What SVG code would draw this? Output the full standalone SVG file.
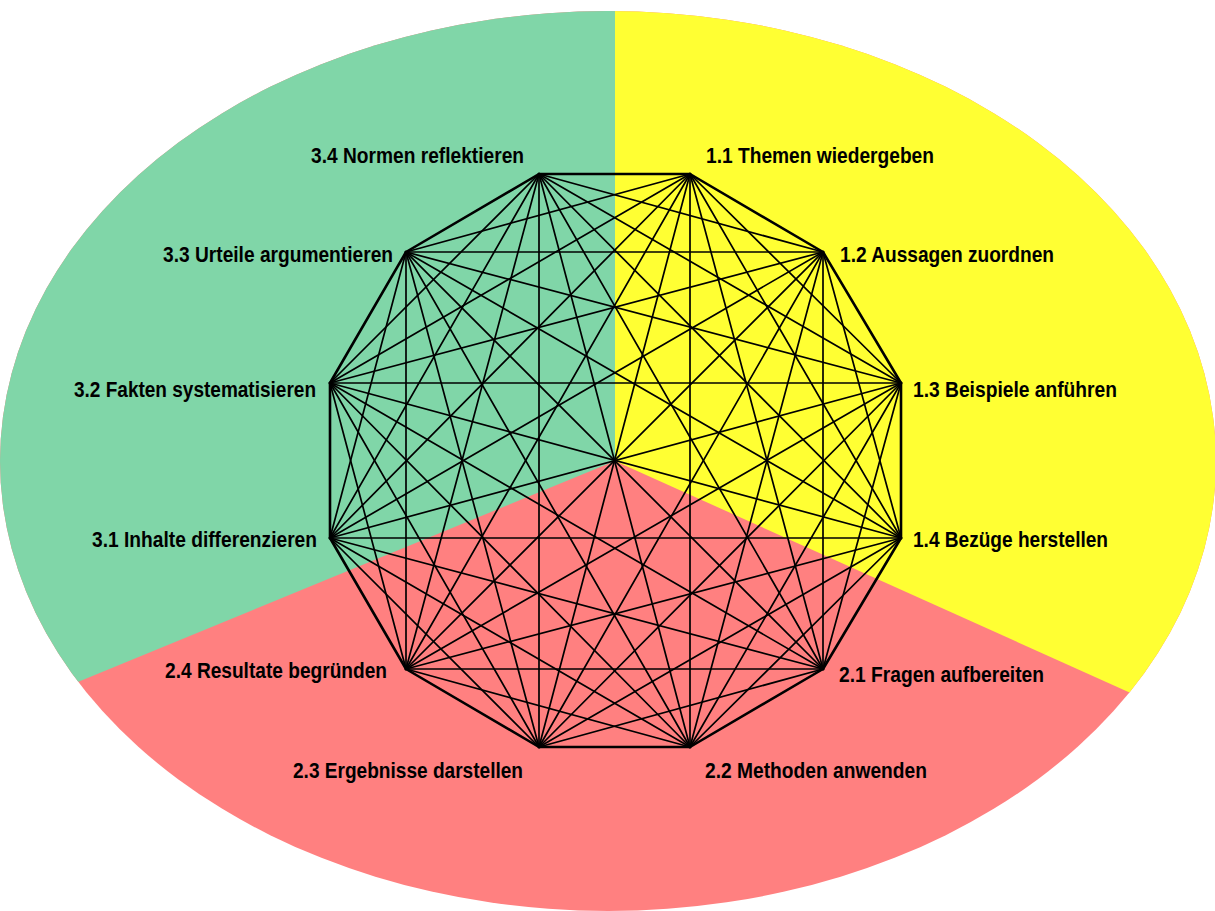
<svg xmlns="http://www.w3.org/2000/svg" width="1215" height="911" viewBox="0 0 1215 911">
<defs>
<clipPath id="ell"><ellipse cx="608" cy="461" rx="608" ry="450"/></clipPath>
<style>
.e{stroke:#000;stroke-width:2.6;stroke-linecap:round}
.c{stroke:#000;stroke-width:1.7;stroke-linecap:round}
.lbl{font-family:"Liberation Sans Narrow","Liberation Sans",Arial,sans-serif;font-weight:bold;font-size:22px;fill:#000}
.pt{fill:#000}
</style>
</defs>
<rect width="1215" height="911" fill="#fff"/>
<g id="background" clip-path="url(#ell)">
<rect x="0" y="0" width="1215" height="911" fill="#ff8080"/>
<polygon points="615,461 615,0 0,0 0,714" fill="#80d6a8"/>
<polygon points="615,461 615,0 1215,0 1215,731" fill="#ffff33"/>
</g>
<g id="connectors">
<line class="e" x1="690" y1="174" x2="823" y2="252"/>
<line class="e" x1="823" y1="252" x2="901" y2="383"/>
<line class="e" x1="901" y1="383" x2="901" y2="538"/>
<line class="e" x1="901" y1="538" x2="823" y2="669"/>
<line class="e" x1="823" y1="669" x2="690" y2="747"/>
<line class="e" x1="690" y1="747" x2="539" y2="747"/>
<line class="e" x1="539" y1="747" x2="406" y2="669"/>
<line class="e" x1="406" y1="669" x2="330" y2="538"/>
<line class="e" x1="330" y1="538" x2="330" y2="383"/>
<line class="e" x1="330" y1="383" x2="406" y2="252"/>
<line class="e" x1="406" y1="252" x2="539" y2="174"/>
<line class="e" x1="539" y1="174" x2="690" y2="174"/>
<line class="c" x1="690" y1="174" x2="901" y2="383"/>
<line class="c" x1="690" y1="174" x2="901" y2="538"/>
<line class="c" x1="690" y1="174" x2="823" y2="669"/>
<line class="c" x1="690" y1="174" x2="690" y2="747"/>
<line class="c" x1="690" y1="174" x2="539" y2="747"/>
<line class="c" x1="690" y1="174" x2="406" y2="669"/>
<line class="c" x1="690" y1="174" x2="330" y2="538"/>
<line class="c" x1="690" y1="174" x2="330" y2="383"/>
<line class="c" x1="690" y1="174" x2="406" y2="252"/>
<line class="c" x1="823" y1="252" x2="901" y2="538"/>
<line class="c" x1="823" y1="252" x2="823" y2="669"/>
<line class="c" x1="823" y1="252" x2="690" y2="747"/>
<line class="c" x1="823" y1="252" x2="539" y2="747"/>
<line class="c" x1="823" y1="252" x2="406" y2="669"/>
<line class="c" x1="823" y1="252" x2="330" y2="538"/>
<line class="c" x1="823" y1="252" x2="330" y2="383"/>
<line class="c" x1="823" y1="252" x2="406" y2="252"/>
<line class="c" x1="823" y1="252" x2="539" y2="174"/>
<line class="c" x1="901" y1="383" x2="823" y2="669"/>
<line class="c" x1="901" y1="383" x2="690" y2="747"/>
<line class="c" x1="901" y1="383" x2="539" y2="747"/>
<line class="c" x1="901" y1="383" x2="406" y2="669"/>
<line class="c" x1="901" y1="383" x2="330" y2="538"/>
<line class="c" x1="901" y1="383" x2="330" y2="383"/>
<line class="c" x1="901" y1="383" x2="406" y2="252"/>
<line class="c" x1="901" y1="383" x2="539" y2="174"/>
<line class="c" x1="901" y1="538" x2="690" y2="747"/>
<line class="c" x1="901" y1="538" x2="539" y2="747"/>
<line class="c" x1="901" y1="538" x2="406" y2="669"/>
<line class="c" x1="901" y1="538" x2="330" y2="538"/>
<line class="c" x1="901" y1="538" x2="330" y2="383"/>
<line class="c" x1="901" y1="538" x2="406" y2="252"/>
<line class="c" x1="901" y1="538" x2="539" y2="174"/>
<line class="c" x1="823" y1="669" x2="539" y2="747"/>
<line class="c" x1="823" y1="669" x2="406" y2="669"/>
<line class="c" x1="823" y1="669" x2="330" y2="538"/>
<line class="c" x1="823" y1="669" x2="330" y2="383"/>
<line class="c" x1="823" y1="669" x2="406" y2="252"/>
<line class="c" x1="823" y1="669" x2="539" y2="174"/>
<line class="c" x1="690" y1="747" x2="406" y2="669"/>
<line class="c" x1="690" y1="747" x2="330" y2="538"/>
<line class="c" x1="690" y1="747" x2="330" y2="383"/>
<line class="c" x1="690" y1="747" x2="406" y2="252"/>
<line class="c" x1="690" y1="747" x2="539" y2="174"/>
<line class="c" x1="539" y1="747" x2="330" y2="538"/>
<line class="c" x1="539" y1="747" x2="330" y2="383"/>
<line class="c" x1="539" y1="747" x2="406" y2="252"/>
<line class="c" x1="539" y1="747" x2="539" y2="174"/>
<line class="c" x1="406" y1="669" x2="330" y2="383"/>
<line class="c" x1="406" y1="669" x2="406" y2="252"/>
<line class="c" x1="406" y1="669" x2="539" y2="174"/>
<line class="c" x1="330" y1="538" x2="406" y2="252"/>
<line class="c" x1="330" y1="538" x2="539" y2="174"/>
<line class="c" x1="330" y1="383" x2="539" y2="174"/>
</g>
<g id="n1-1"><circle class="pt" cx="690" cy="174" r="1.5"/><text class="lbl" x="706" y="163" textLength="228" lengthAdjust="spacingAndGlyphs">1.1 Themen wiedergeben</text></g>
<g id="n1-2"><circle class="pt" cx="823" cy="252" r="1.5"/><text class="lbl" x="840" y="262" textLength="214" lengthAdjust="spacingAndGlyphs">1.2 Aussagen zuordnen</text></g>
<g id="n1-3"><circle class="pt" cx="901" cy="383" r="1.5"/><text class="lbl" x="913" y="397" textLength="204" lengthAdjust="spacingAndGlyphs">1.3 Beispiele anführen</text></g>
<g id="n1-4"><circle class="pt" cx="901" cy="538" r="1.5"/><text class="lbl" x="913" y="547" textLength="195" lengthAdjust="spacingAndGlyphs">1.4 Bezüge herstellen</text></g>
<g id="n2-1"><circle class="pt" cx="823" cy="669" r="1.5"/><text class="lbl" x="839" y="682" textLength="205" lengthAdjust="spacingAndGlyphs">2.1 Fragen aufbereiten</text></g>
<g id="n2-2"><circle class="pt" cx="690" cy="747" r="1.5"/><text class="lbl" x="705" y="778" textLength="222" lengthAdjust="spacingAndGlyphs">2.2 Methoden anwenden</text></g>
<g id="n2-3"><circle class="pt" cx="539" cy="747" r="1.5"/><text class="lbl" x="293" y="778" textLength="230" lengthAdjust="spacingAndGlyphs">2.3 Ergebnisse darstellen</text></g>
<g id="n2-4"><circle class="pt" cx="406" cy="669" r="1.5"/><text class="lbl" x="165" y="678" textLength="222" lengthAdjust="spacingAndGlyphs">2.4 Resultate begründen</text></g>
<g id="n3-1"><circle class="pt" cx="330" cy="538" r="1.5"/><text class="lbl" x="92" y="547" textLength="225" lengthAdjust="spacingAndGlyphs">3.1 Inhalte differenzieren</text></g>
<g id="n3-2"><circle class="pt" cx="330" cy="383" r="1.5"/><text class="lbl" x="74" y="397" textLength="242" lengthAdjust="spacingAndGlyphs">3.2 Fakten systematisieren</text></g>
<g id="n3-3"><circle class="pt" cx="406" cy="252" r="1.5"/><text class="lbl" x="163" y="262" textLength="230" lengthAdjust="spacingAndGlyphs">3.3 Urteile argumentieren</text></g>
<g id="n3-4"><circle class="pt" cx="539" cy="174" r="1.5"/><text class="lbl" x="311" y="163" textLength="213" lengthAdjust="spacingAndGlyphs">3.4 Normen reflektieren</text></g>
</svg>
